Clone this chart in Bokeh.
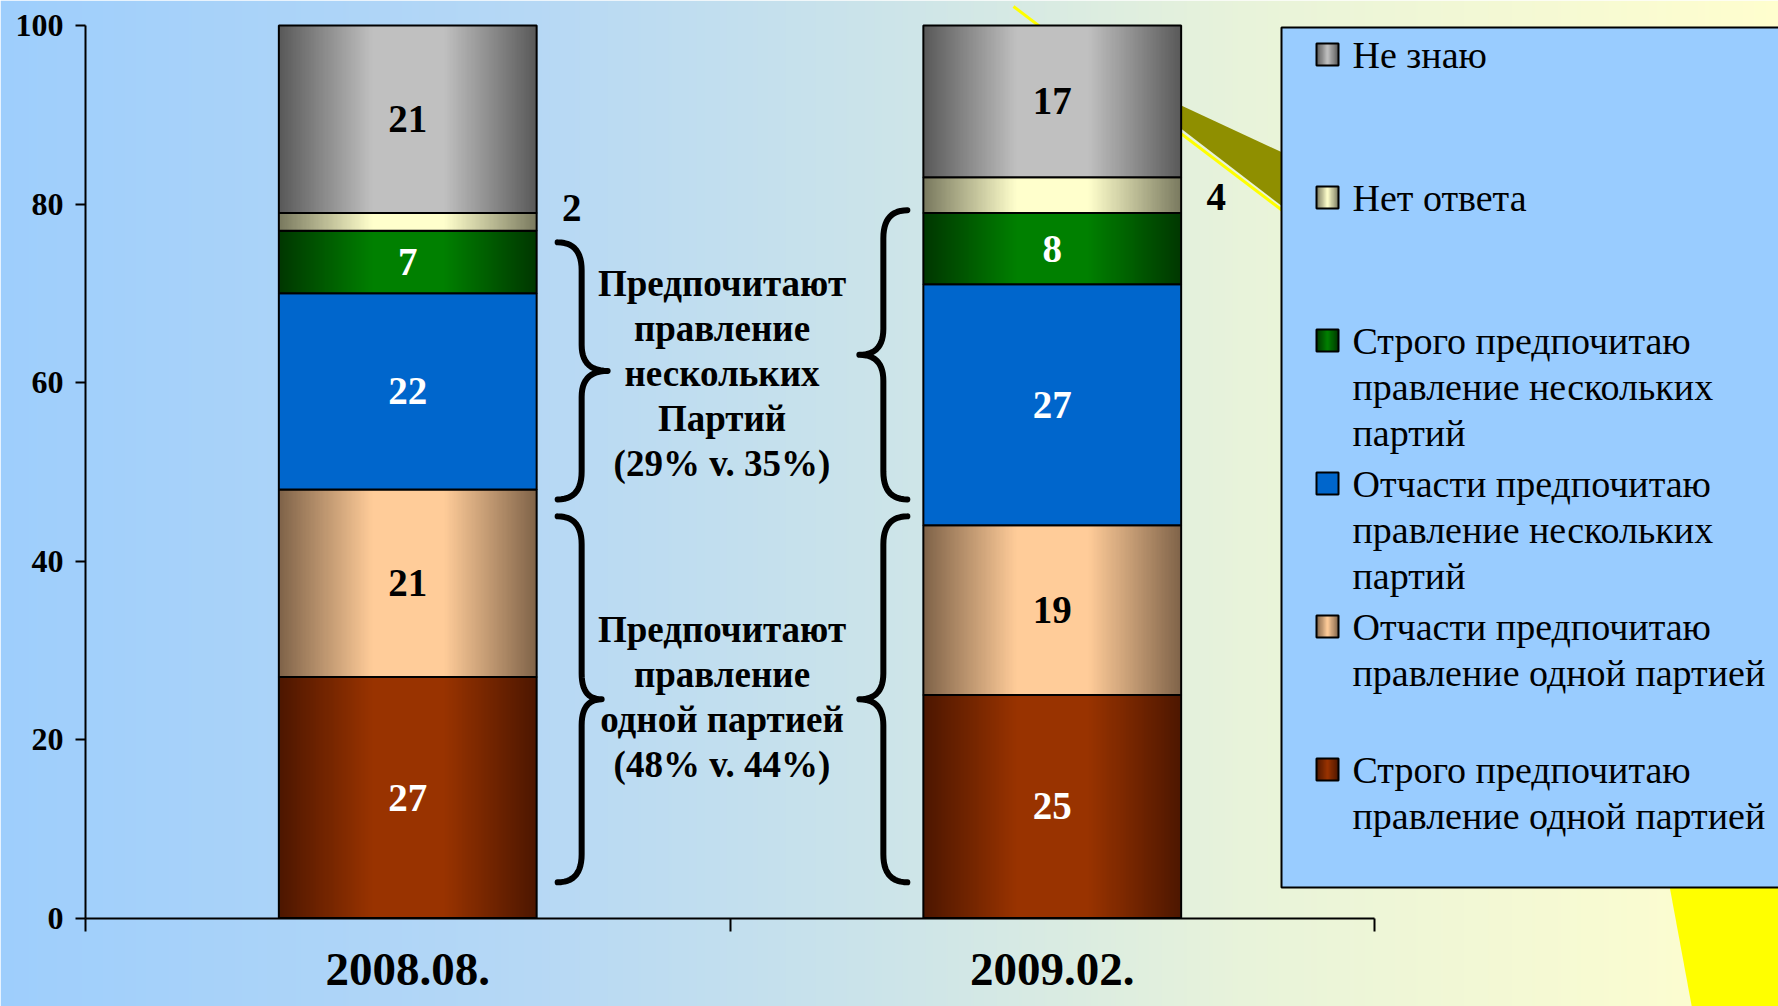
import numpy as np
from bokeh.plotting import figure
from bokeh.models import Range1d, LinearAxis, FixedTicker
from bokeh.core.properties import value
from bokeh.embed import file_html
from bokeh.resources import INLINE

# ---------------- data ----------------
periods = ["2008.08.", "2009.02."]
strict_one = [27, 25]    # Строго предпочитаю правление одной партией
partly_one = [21, 19]    # Отчасти предпочитаю правление одной партией
partly_many = [22, 27]   # Отчасти предпочитаю правление нескольких партий
strict_many = [7, 8]     # Строго предпочитаю правление нескольких партий
no_answer = [2, 4]       # Нет ответа
dont_know = [21, 17]     # Не знаю
y_ticks = [0, 20, 40, 60, 80, 100]

legend_lines = [
    ["Не знаю"],
    ["Нет ответа"],
    ["Строго предпочитаю", "правление нескольких", "партий"],
    ["Отчасти предпочитаю", "правление нескольких", "партий"],
    ["Отчасти предпочитаю", "правление одной партией"],
    ["Строго предпочитаю", "правление одной партией"],
]
title_many = ["Предпочитают", "правление", "нескольких", "Партий"]
title_one = ["Предпочитают", "правление", "одной партией"]

# ---------------- styles ----------------
series = [strict_one, partly_one, partly_many, strict_many, no_answer, dont_know]  # bottom -> top
edge_cols = [(76, 22, 0), (126, 98, 72), (0, 102, 204), (0, 54, 0), (120, 120, 94), (88, 88, 88)]
mid_cols = [(153, 51, 0), (255, 204, 153), (0, 102, 204), (0, 128, 0), (255, 255, 204), (192, 192, 192)]
label_cols = ["white", "black", "white", "white", "black", "black"]
outside_label = [False, False, False, False, True, False]
outside_dy = [-14, 2]

FONT = value("Liberation Serif")
W, H = 1778, 1006
PX_PER_X, PX_PER_Y = 644.5, 8.925
x0 = 85
y0 = 917.5
BAR_W = 0.4


def grad_img(edge, mid, n=200, reach=0.36):
    u = (np.arange(n) + 0.5) / n
    t = np.clip(np.minimum(u, 1 - u) / reach, 0, 1)
    rgb = np.array(edge, float)[None, :] * (1 - t)[:, None] + np.array(mid, float)[None, :] * t[:, None]
    img = np.zeros((1, n), dtype=np.uint32)
    v = img.view(dtype=np.uint8).reshape((1, n, 4))
    v[0, :, 0:3] = rgb.round().astype(np.uint8)
    v[0, :, 3] = 255
    return img


def stops_img(stops, n=700):
    u = np.linspace(0, 1, n)
    pos = [s[0] for s in stops]
    img = np.zeros((1, n), dtype=np.uint32)
    v = img.view(dtype=np.uint8).reshape((1, n, 4))
    for c in range(3):
        v[0, :, c] = np.interp(u, pos, [s[1][c] for s in stops]).round().astype(np.uint8)
    v[0, :, 3] = 255
    return img


p = figure(width=W, height=H, output_backend="svg", toolbar_location=None,
           x_range=Range1d(-x0 / PX_PER_X, (W - x0) / PX_PER_X),
           y_range=Range1d(-(H - y0) / PX_PER_Y, y0 / PX_PER_Y),
           x_axis_location=None, y_axis_location=None, min_border=0)
p.min_border_left = p.min_border_right = p.min_border_top = p.min_border_bottom = 0
p.outline_line_color = None
p.xgrid.grid_line_color = None
p.ygrid.grid_line_color = None
p.border_fill_color = "#A0CEFC"
p.extra_x_ranges = {"px": Range1d(0, W)}
p.extra_y_ranges = {"py": Range1d(-H, 0)}

# background gradient
bg = stops_img([(0.0, (158, 206, 252)), (0.3, (182, 216, 245)), (0.5, (204, 228, 233)),
                (0.7, (232, 243, 218)), (1.0, (255, 254, 206))])
p.image_rgba(image=[bg], x=p.x_range.start, y=p.y_range.start,
             dw=p.x_range.end - p.x_range.start, dh=p.y_range.end - p.y_range.start, level="image")

# slide decorations
p.line(x=[1013, 1282], y=[-6, -210], line_color="#FFFF00", line_width=3,
       x_range_name="px", y_range_name="py")
p.patch(x=[1170, 1282, 1282, 1170], y=[-100, -152, -206, -120], fill_color="#8F8F00",
        line_color=None, x_range_name="px", y_range_name="py")
p.patch(x=[1668, 1692, 1790, 1790], y=[-880, -1010, -1010, -880], fill_color="#FFFF00",
        line_color=None, x_range_name="px", y_range_name="py")

# ---------------- bars ----------------
centers = np.arange(len(periods)) + 0.5
bottom = np.zeros(len(periods))
for k, vals in enumerate(series):
    vals = np.array(vals, float)
    img = grad_img(edge_cols[k], mid_cols[k])
    p.image_rgba(image=[img] * len(periods), x=list(centers - BAR_W / 2), y=list(bottom),
                 dw=[BAR_W] * len(periods), dh=list(vals))
    p.quad(left=centers - BAR_W / 2, right=centers + BAR_W / 2, bottom=bottom, top=bottom + vals,
           fill_alpha=0, line_color="black", line_width=2)
    labels = [str(int(v)) for v in vals]
    if outside_label[k]:
        p.text(x=centers + BAR_W / 2, y=bottom + vals / 2, text=labels, x_offset=35,
               y_offset=outside_dy,
               text_align="center", text_baseline="middle", text_font=FONT,
               text_font_size="39px", text_font_style="bold", text_color=label_cols[k])
    else:
        p.text(x=centers, y=bottom + vals / 2, text=labels,
               text_align="center", text_baseline="middle", text_font=FONT,
               text_font_size="39px", text_font_style="bold", text_color=label_cols[k])
    bottom = bottom + vals

# ---------------- braces & group notes ----------------
def brace(x_hook, y_top, y_bot, direction, width=50, stem=24, r=28, r2=26, n=14):
    xh = x_hook * PX_PER_X
    top, bot = y_top * PX_PER_Y, y_bot * PX_PER_Y
    mid = (top + bot) / 2
    tt = np.linspace(0, 1, n)

    def q(a, c, b):
        a, c, b = np.array(a), np.array(c), np.array(b)
        return [(1 - t) ** 2 * a + 2 * (1 - t) * t * c + t ** 2 * b for t in tt]

    pts = []
    pts += q((0, top), (stem, top), (stem, top - r))
    pts += q((stem, mid + r2), (stem, mid), (width, mid))
    pts += q((width, mid), (stem, mid), (stem, mid - r2))
    pts += q((stem, bot + r), (stem, bot), (0, bot))
    xs = [(xh + direction * pt[0]) / PX_PER_X for pt in pts]
    ys = [pt[1] / PX_PER_Y for pt in pts]
    return xs, ys


left_hook = centers[0] + BAR_W / 2 + 21 / PX_PER_X
right_hook = centers[1] - BAR_W / 2 - 16 / PX_PER_X
brace_specs = [(left_hook, 75.7, 46.9, 1, 50), (right_hook, 79.3, 46.9, -1, 48),
               (left_hook, 45.0, 4.0, 1, 44), (right_hook, 45.0, 4.0, -1, 48)]
bx, by = [], []
for xh, yt, yb, d, wd in brace_specs:
    xs, ys = brace(xh, yt, yb, d, width=wd)
    bx.append(xs)
    by.append(ys)
p.multi_line(xs=bx, ys=by, line_color="black", line_width=6, line_cap="round", line_join="round")

many = [a + b for a, b in zip(strict_many, partly_many)]
one = [a + b for a, b in zip(strict_one, partly_one)]
notes = [(title_many + [f"({many[0]}% v. {many[1]}%)"], 61.0),
         (title_one + [f"({one[0]}% v. {one[1]}%)"], 24.8)]
xmid = float(centers.mean())
for lines, yc in notes:
    nl = len(lines)
    for i, ln in enumerate(lines):
        p.text(x=[xmid], y=[yc], text=[ln], x_offset=-8, y_offset=(i - (nl - 1) / 2) * 45,
               text_align="center", text_baseline="middle", text_font=FONT,
               text_font_size="37px", text_font_style="bold", text_color="black")

# ---------------- legend ----------------
p.quad(left=[1281], right=[1800], top=[-27], bottom=[-887], fill_color="#99CCFF",
       line_color="black", line_width=2, x_range_name="px", y_range_name="py")
order = list(range(len(series)))[::-1]
for j, k in enumerate(order):
    yc = 54 + j * 143
    img = grad_img(edge_cols[k], mid_cols[k], n=40, reach=0.5)
    p.image_rgba(image=[img], x=[1316], y=[-(yc + 11)], dw=[22], dh=[22],
                 x_range_name="px", y_range_name="py")
    p.quad(left=[1316], right=[1338], top=[-(yc - 11)], bottom=[-(yc + 11)], fill_alpha=0,
           line_color="black", line_width=2, x_range_name="px", y_range_name="py")
    for i, ln in enumerate(legend_lines[j]):
        p.text(x=[1352], y=[-(yc + i * 46)], text=[ln], text_align="left", text_baseline="middle",
               text_font=FONT, text_font_size="38px", text_color="black",
               x_range_name="px", y_range_name="py")

# ---------------- axes ----------------
yaxis = LinearAxis(ticker=FixedTicker(ticks=y_ticks), fixed_location=0, bounds=(0, 100))
xaxis = LinearAxis(ticker=FixedTicker(ticks=[0, 1, 2]), fixed_location=0, bounds=(0, 2))
xlab = LinearAxis(ticker=FixedTicker(ticks=list(centers)), fixed_location=0,
                  major_label_overrides={float(c): s for c, s in zip(centers, periods)})
for ax in (yaxis, xaxis, xlab):
    ax.axis_line_color = "black"
    ax.axis_line_width = 2
    ax.major_tick_line_color = "black"
    ax.major_tick_line_width = 2
    ax.major_tick_in = 0
    ax.minor_tick_in = 0
    ax.minor_tick_out = 0
    ax.major_label_text_font = "Liberation Serif"
    ax.major_label_text_font_style = "bold"
    ax.major_label_text_color = "black"
yaxis.major_tick_out = 10
yaxis.major_label_text_font_size = "32px"
yaxis.major_label_standoff = 12
xaxis.major_tick_out = 13
xaxis.major_label_text_color = None
xlab.axis_line_color = None
xlab.major_tick_line_color = None
xlab.major_tick_out = 0
xlab.major_label_text_font_size = "47px"
xlab.major_label_standoff = 36
p.add_layout(yaxis, "left")
p.add_layout(xaxis, "below")
p.add_layout(xlab, "below")

open("out.html", "w").write(file_html(p, INLINE))
